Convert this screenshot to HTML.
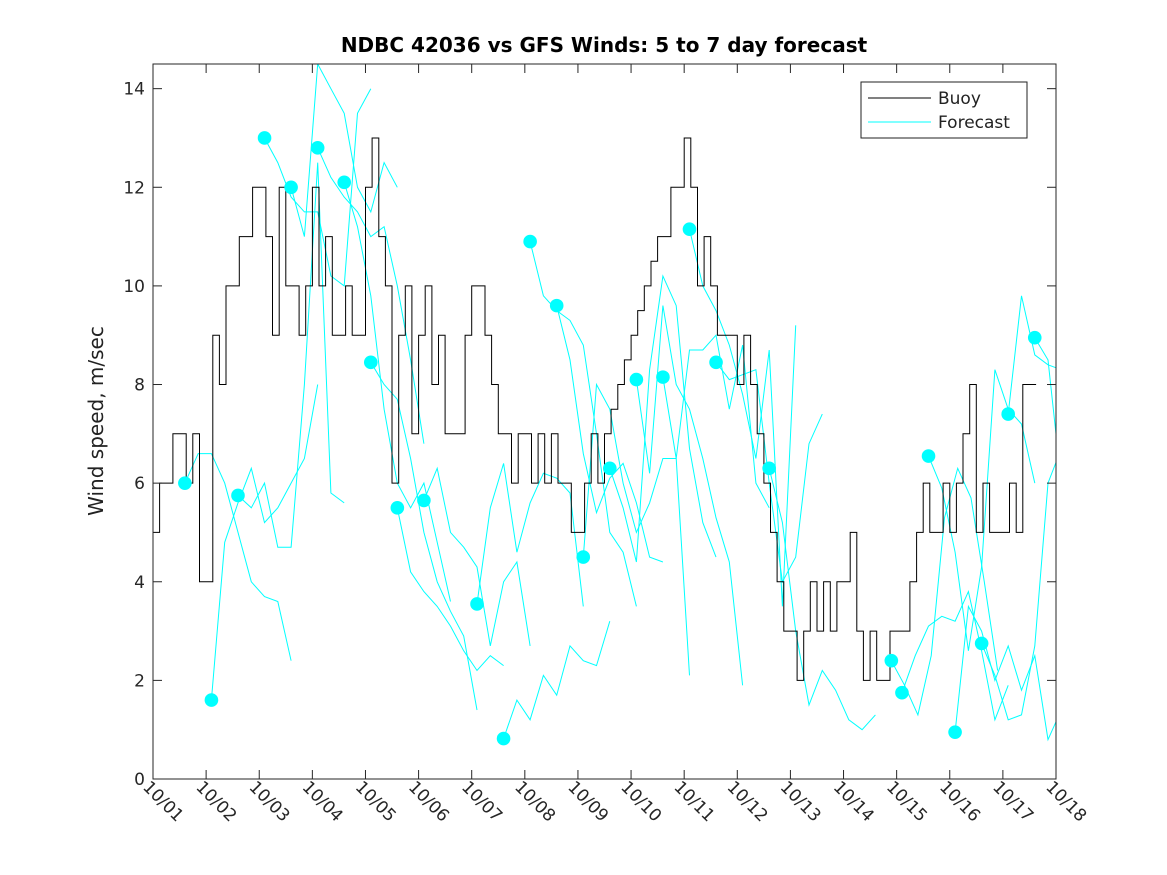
<!DOCTYPE html>
<html><head><meta charset="utf-8">
<style>
html,body{margin:0;padding:0;background:#fff;}
svg{display:block;font-family:"DejaVu Sans","Liberation Sans",sans-serif;}
</style></head>
<body>
<svg id="chart" width="1167" height="875" viewBox="0 0 1167 875" xmlns="http://www.w3.org/2000/svg">
<rect width="1167" height="875" fill="#fff"/>
<text x="604" y="52" text-anchor="middle" font-size="20" font-weight="bold" fill="#000">NDBC 42036 vs GFS Winds: 5 to 7 day forecast</text>
<text transform="translate(103,421) rotate(-90)" text-anchor="middle" font-size="20" fill="#222">Wind speed, m/sec</text>
<defs><clipPath id="pc"><rect x="153" y="64" width="903" height="715"/></clipPath></defs>
<g id="series" clip-path="url(#pc)"></g>
<g id="axes"></g>
<g>
<rect x="861" y="82" width="166" height="56" fill="#fff" stroke="#222" stroke-width="1"/>
<line x1="868" y1="98" x2="931" y2="98" stroke="#000" stroke-width="1"/>
<text x="938" y="104" font-size="17" fill="#222">Buoy</text>
<line x1="868" y1="122" x2="931" y2="122" stroke="#00ffff" stroke-width="1"/>
<text x="938" y="128" font-size="17" fill="#222">Forecast</text>
</g>
</svg>
<script>
const dayLabels=["10/01","10/02","10/03","10/04","10/05","10/06","10/07","10/08","10/09","10/10","10/11","10/12","10/13","10/14","10/15","10/16","10/17","10/18"];
const yTicks=[0,2,4,6,8,10,12,14];
// buoy values, 3-hourly from 10/01 00Z
const buoyV=[
5,6,6,7,7,6,7,4,
4,9,8,10,10,11,11,12,
12,11,9,12,10,10,9,10,
12,10,11,9,9,10,9,9,
12,13,11,10,6,9,10,7,
9,10,8,9,7,7,7,9,
10,10,9,8,7,7,6,7,
7,6,7,6,7,6,6,5,
5,6,7,6,7,7.5,8,8.5,
9,9.5,10,10.5,11,11,12,12,
13,12,10,11,10,9,9,9,
8,9,8,7,6,5,4,3,
3,2,3,4,3,4,3,4,
4,5,3,2,3,2,2,3,
3,3,4,5,6,5,5,6,
5,6,7,8,5,6,5,5,
5,6,5,8,8];
const buoyStep=0.125;
const fcStart=[0.6,1.1,1.6,2.1,2.6,3.1,3.6,4.1,4.6,5.1,6.1,6.6,7.1,7.6,8.1,8.6,9.1,9.6,10.1,10.6,11.6,13.9,14.1,14.6,15.1,15.6,16.1,16.6];
const fcVals=[
[6,6.6,6.6,6,5,4,3.7,3.6,2.4],
[1.6,4.8,5.6,6.3,5.2,5.5,6,6.5,8],
[5.75,5.5,6,4.7,4.7,8,12.5,5.8,5.6],
[13,12.5,11.8,11.5,11.5,10.2,10,13.5,14],
[12,11,14.5,14,13.5,12,11.5,12.5,12],
[12.8,12.2,11.8,11.5,11,11.2,10,8.5,6.8],
[12.1,11.2,9.8,7.5,6,5.5,6,4.8,3.6],
[8.45,8,7.7,6.5,5,4,3.4,2.9,1.4],
[5.5,4.2,3.8,3.5,3.1,2.6,2.2,2.5,2.3],
[5.65,6.3,5,4.7,4.3,2.7,4,4.4,2.7],
[3.55,5.5,6.4,4.6,5.6,6.2,6.1,5.8,3.5],
[0.82,1.6,1.2,2.1,1.7,2.7,2.4,2.3,3.2],
[10.9,9.8,9.5,9.3,8.8,7,5,4.6,3.5],
[9.6,8.5,6.6,5.4,6.1,6.4,5.6,4.5,4.4],
[4.5,8,7.5,6,5,5.6,6.5,6.5,2.1],
[6.3,5.5,4.4,8.3,10.2,9.6,6.7,5.2,4.5],
[8.1,6.2,9.6,8,7.5,6.5,5.3,4.4,1.9],
[8.15,6.5,8.7,8.7,9,7.5,8.8,6,5.5],
[11.15,10,9.5,8.8,7.8,6.5,8.7,3.5,9.2],
[8.45,8.1,8.2,8.3,6,4,4.5,6.8,7.4],
[6.3,5.2,3,1.5,2.2,1.8,1.2,1.0,1.3],
[2.4,1.9,1.3,2.5,5.3,6.3,5.7,4,2.2],
[1.75,2.5,3.1,3.3,3.2,3.8,2.6,1.2,1.9],
[6.55,5.9,4.6,2.6,4.3,8.3,7.5,7.2,6],
[0.95,3.5,3,2,2.7,1.8,2.5,0.8,1.4],
[2.75,2.1,1.2,1.3,2.7,6,6.7,6.8,6.5],
[7.4,9.8,8.6,8.4,8.3,7,4.5,4.2,4.3],
[8.95,8.5,6,2.6,2.6,2.6,2.6,2.6,2.6]
];
const NS="http://www.w3.org/2000/svg";
const X0=153,X1=1056,Y0=779,Y1=64,DMAX=17,VMAX=14.5;
function xs(d){return X0+(X1-X0)*d/DMAX;}
function ys(v){return Y0-(Y0-Y1)*v/VMAX;}
function mk(tag,attrs,parent){const e=document.createElementNS(NS,tag);for(const k in attrs)e.setAttribute(k,attrs[k]);parent.appendChild(e);return e;}
const series=document.getElementById('series'),axes=document.getElementById('axes');
fcStart.forEach((s,i)=>{
  const pts=fcVals[i].map((v,j)=>xs(s+j*0.25).toFixed(1)+','+ys(v).toFixed(1)).join(' ');
  const pl=mk('polyline',{points:pts,fill:'none',stroke:'#00ffff','stroke-width':1},series);
  
  
});
let d='';
buoyV.forEach((v,i)=>{
  const x=xs(i*buoyStep).toFixed(1),y=ys(v).toFixed(1);
  if(i===0)d+='M'+x+','+y;
  else d+='H'+x+'V'+y;
});
d+='H'+xs(buoyV.length*buoyStep).toFixed(1);
const bp=mk('path',{d:d,fill:'none',stroke:'#000','stroke-width':1},series);


fcStart.forEach((s,i)=>{
  const c=mk('circle',{cx:xs(s),cy:ys(fcVals[i][0]),r:6.8,fill:'#00ffff'},series);
  
  
});
mk('rect',{x:X0,y:Y1,width:X1-X0,height:Y0-Y1,fill:'none',stroke:'#262626','stroke-width':1},axes);
yTicks.forEach(v=>{
  const y=ys(v);
  mk('line',{x1:X0,y1:y,x2:X0+9,y2:y,stroke:'#262626'},axes);
  mk('line',{x1:X1,y1:y,x2:X1-9,y2:y,stroke:'#262626'},axes);
  const t=mk('text',{x:X0-8,y:y+6,'text-anchor':'end','font-size':17,fill:'#262626'},axes);
  t.textContent=v;
  
  
});
dayLabels.forEach((lab,i)=>{
  const x=xs(i);
  mk('line',{x1:x,y1:Y0,x2:x,y2:Y0-9,stroke:'#262626'},axes);
  mk('line',{x1:x,y1:Y1,x2:x,y2:Y1+9,stroke:'#262626'},axes);
  const t=mk('text',{x:0,y:0,transform:`translate(${x-11},${Y0+9}) rotate(45)`,'font-size':17,fill:'#262626'},axes);
  t.textContent=lab;
  
  
});
</script>
</body></html>
